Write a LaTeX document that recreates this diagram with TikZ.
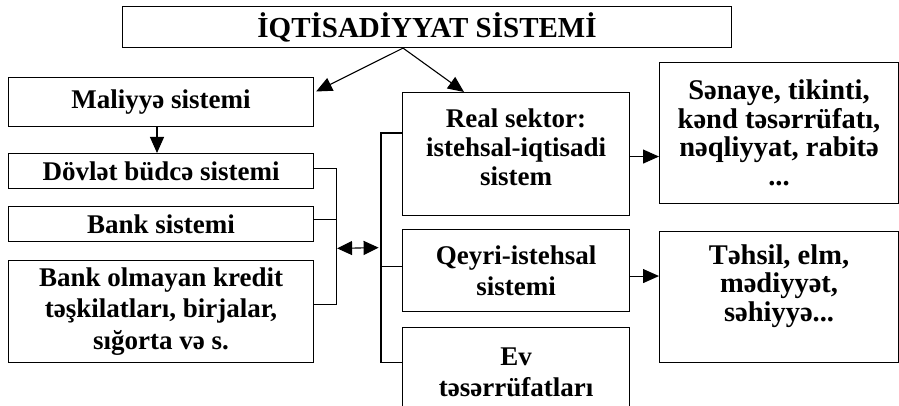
\documentclass[tikz,border=0pt]{standalone}
\usepackage{fontspec}
\setmainfont{Liberation Serif}
\usetikzlibrary{arrows.meta,calc}
\begin{document}
\begin{tikzpicture}[x=1pt,y=-1pt,
  box/.style={draw, line width=1.1pt, inner sep=0pt, align=center, anchor=north west,
    font=\fontsize{27}{31.5}\selectfont\bfseries},
  rightfont/.style={font=\fontsize{28.5}{28.5}\selectfont\bfseries},
  realfont/.style={font=\fontsize{27}{29}\selectfont\bfseries, text depth=14pt},
  titlefont/.style={font=\fontsize{29}{34}\selectfont\bfseries},
  ln/.style={draw, line width=1.1pt},
  arr/.style={draw, line width=1.1pt, -{Triangle[length=16pt,width=14pt]}},
  dbl/.style={draw, line width=1.1pt, {Triangle[length=15pt,width=14pt]}-{Triangle[length=15pt,width=14pt]}}]
\useasboundingbox (0,0) rectangle (899,406);
\node[box, titlefont, minimum width=609pt, minimum height=41pt] (top) at (122,6) {İQTİSADİYYAT SİSTEMİ};
\node[box, minimum width=305pt, minimum height=49pt] (mal) at (8,77) {Maliyyə sistemi};
\node[box, minimum width=305pt, minimum height=35pt] (dov) at (8,153) {Dövlət büdcə sistemi};
\node[box, minimum width=305pt, minimum height=35pt] (bank) at (8,206) {Bank sistemi};
\node[box, minimum width=305pt, minimum height=102pt] (nbank) at (8,260) {Bank olmayan kredit\\təşkilatları, birjalar,\\sığorta və s.};
\node[box, realfont, minimum width=227pt, minimum height=123pt] (real) at (402,92) {Real sektor:\\istehsal-iqtisadi\\sistem};
\node[box, minimum width=227pt, minimum height=82pt] (qeyri) at (402,229) {Qeyri-istehsal\\sistemi};
\node[box, minimum width=227pt, minimum height=90pt] (ev) at (402,327) {Ev\\təsərrüfatları};
\node[box, rightfont, minimum width=239pt, minimum height=141pt] (sen) at (659,62) {Sənaye, tikinti,\\kənd təsərrüfatı,\\nəqliyyat, rabitə\\...};
\node[box, rightfont, minimum width=239pt, minimum height=131pt] (teh) at (659,231) {Təhsil, elm,\\mədiyyət,\\səhiyyə...\\\mbox{}};
% top arrows
\coordinate (o) at ($(top.south)+(-24,0)$);
\coordinate (malin) at ($(mal.north east)+(2,14.5)$);
\coordinate (realin) at ($(real.north west)+(62,0)$);
\draw[arr] (o) -- (malin);
\draw[arr] (o) -- (realin);
\draw[arr] ($(mal.south west)+(149,0)$) -- ($(dov.north west)+(149,0)$);
% left bracket
\draw[ln] ($(dov.east)+(0,-2.5)$) -- ++(22,0) coordinate (lb) |- ($(nbank.east)+(0,-7)$);
\draw[ln] ($(bank.east)+(0,-4.5)$) -- ($(bank.east -| lb)+(0,-4.5)$);
% right bracket
\draw[ln] ($(real.west)+(0,-21)$) -- ++(-21,0) coordinate (rb) |- ($(ev.west)+(0,-10.3)$);
\draw[ln] ($(qeyri.west)+(0,-4)$) -- ($(qeyri.west -| rb)+(0,-4)$);
% double arrow
\coordinate (la) at ($(lb)+(1,79.8)$);
\coordinate (ra) at ($(rb)+(-2.4,114.6)$);
\draw[dbl] (la) -- (ra);
% right arrows
\draw[arr] ($(real.east)+(0,2.5)$) -- ($(real.east -| sen.west)+(0,2.5)$);
\draw[arr] ($(qeyri.east)+(0,5.5)$) -- ($(qeyri.east -| teh.west)+(0,5.5)$);
\end{tikzpicture}
\end{document}
